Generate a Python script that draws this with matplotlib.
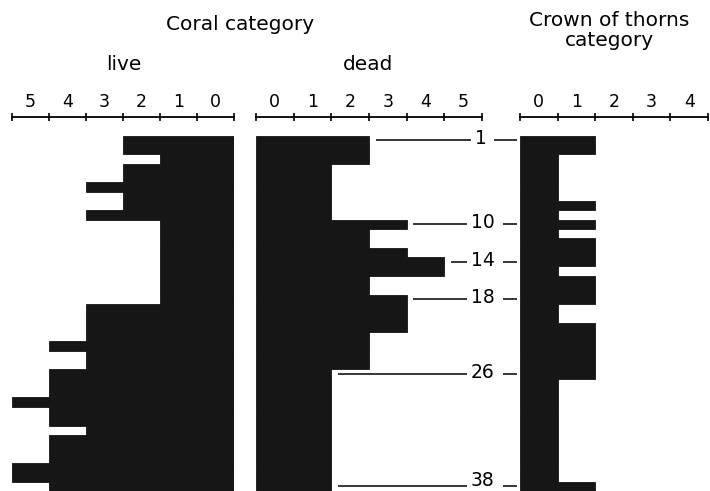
import matplotlib
matplotlib.use("Agg")
import matplotlib.pyplot as plt
import numpy as np

# ---------------- data (stations 1..38, top to bottom) ----------------
stations = list(range(1, 39))
live_coral = [2, 2, 1, 2, 2, 3, 2, 2, 3,
              1, 1, 1, 1, 1, 1, 1, 1, 1,
              3, 3, 3, 3, 4, 3, 3, 4, 4, 4, 5, 4, 4, 3, 4, 4, 4, 5, 5, 4]
dead_coral = [2, 2, 2, 1, 1, 1, 1, 1, 1, 3, 2, 2, 3, 4, 4, 2, 2,
              3, 3, 3, 3, 2, 2, 2, 2,
              1, 1, 1, 1, 1, 1, 1, 1, 1, 1, 1, 1, 1]
cot_category = [1, 1, 0, 0, 0, 0, 0, 1, 0, 1, 0, 1, 1, 1, 0, 1, 1, 1, 0, 0,
                1, 1, 1, 1, 1, 1,
                0, 0, 0, 0, 0, 0, 0, 0, 0, 0, 0, 1]
coral_ticklabels = ["0", "1", "2", "3", "4", "5"]
cot_ticklabels = ["0", "1", "2", "3", "4"]
marked_stations = [1, 10, 14, 18, 26, 38]

# ---------------- figure ----------------
W, H = 710, 491
fig = plt.figure(figsize=(W / 100, H / 100), dpi=100)
fig.patch.set_facecolor("white")

BAR = "#161616"
top_px, bot_px = 135.5, 491.0
row_px = (bot_px - top_px) / len(stations)


def make_axes(left_px, right_px):
    return fig.add_axes([left_px / W, 1 - bot_px / H,
                         (right_px - left_px) / W, (bot_px - top_px) / H])


def style_axes(ax, labels, invert=False):
    n = len(labels)
    ax.set_xlim((n, 0) if invert else (0, n))
    ax.set_ylim(len(stations) + 0.5, 0.5)
    for s in ["left", "right", "bottom"]:
        ax.spines[s].set_visible(False)
    ax.spines["top"].set_position(("outward", 13.3))
    ax.spines["top"].set_linewidth(1.3)
    ax.xaxis.tick_top()
    ax.set_xticks(np.arange(0, n + 1))
    ax.set_xticklabels([""] * (n + 1))
    ax.set_xticks(np.arange(n) + 0.5, minor=True)
    ax.set_xticklabels(labels, minor=True)
    ax.tick_params(axis="x", which="major", direction="inout", length=6,
                   width=1.2, top=True, bottom=False)
    ax.tick_params(axis="x", which="minor", length=0, pad=4.3,
                   labelsize=12.5, top=True, bottom=False)
    ax.set_yticks([])
    ax.patch.set_alpha(0)


def draw_bars(ax, values):
    widths = [v + 1 for v in values]
    ax.barh(stations, widths, height=1.0, left=0, color=BAR,
            edgecolor=BAR, linewidth=0.6)


ax_live = make_axes(12, 234)
ax_dead = make_axes(256, 482)
ax_cot = make_axes(520, 708)

style_axes(ax_live, coral_ticklabels, invert=True)
style_axes(ax_dead, coral_ticklabels)
style_axes(ax_cot, cot_ticklabels)

draw_bars(ax_live, live_coral)
draw_bars(ax_dead, dead_coral)
draw_bars(ax_cot, cot_category)

# ---------------- station markers between dead and COT panels ----------------
dead_left = 256
px_unit = (482 - dead_left) / len(coral_ticklabels)
dash_end = (517 - dead_left) / px_unit
for st in marked_stations:
    v = dead_coral[st - 1]
    lab = str(st)
    c_px = 481 if len(lab) == 1 else 482.5
    c = (c_px - dead_left) / px_unit
    left_gap = (4 + 6 * len(lab)) / px_unit
    right_gap = (5 + 7.5 * len(lab)) / px_unit
    ax_dead.plot([v + 1 + 0.18, c - left_gap], [st, st], color="black",
                 lw=1.1, clip_on=False, solid_capstyle="butt")
    ax_dead.plot([c + right_gap, dash_end], [st, st], color="black",
                 lw=1.1, clip_on=False, solid_capstyle="butt")
    # text baseline a little below the leader line (digits sit slightly above it)
    y_px = top_px + (st - 0.5) * row_px
    base_px = min(y_px + 4.0, 486.5)
    fig.text(c_px / W, 1 - base_px / H, lab, ha="center", va="baseline",
             fontsize=13.5)

# ---------------- titles ----------------
def ftext(x, y, s, **kw):
    fig.text(x / W, 1 - y / H, s, ha="center", va="center", **kw)

ftext(240, 24, "Coral category", fontsize=14.5)
ftext(124, 64, "live", fontsize=14.5)
ftext(368, 64, "dead", fontsize=14.5)
ftext(609, 21, "Crown of thorns", fontsize=14.5)
ftext(609, 41, "category", fontsize=14.5)

fig.savefig("out.png", dpi=100)
